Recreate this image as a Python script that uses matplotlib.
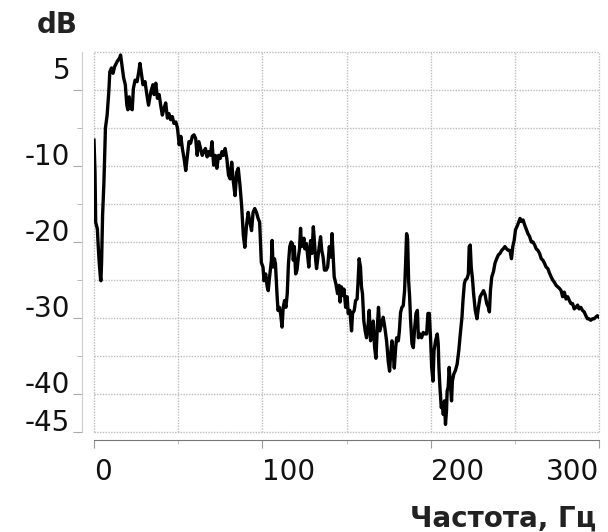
import matplotlib
matplotlib.use('Agg')
import matplotlib.pyplot as plt
import numpy as np

# spectrum
freq = [0, 0.6, 1.0, 2.0, 2.5, 3.1, 3.9, 4.1, 4.5, 5.1, 5.9, 6.8, 7.8, 8.8, 9.4, 10.4,
        11.3, 12.3, 13.9, 15.2, 15.8, 16.6, 17.6, 18.6, 19.5, 20.1, 20.9, 21.7, 22.7,
        23.4, 24.4, 25.6, 26.6, 27.3, 28.3, 29.1, 30.3, 31.4, 32.4, 33.8, 35.0, 35.7,
        36.7, 37.7, 38.7, 39.6, 40.6, 41.6, 42.6, 43.6, 44.5, 45.5, 46.5, 47.5, 48.6,
        49.6, 50.6, 51.6, 52.5, 53.5, 54.5, 55.5, 56.4, 57.4, 58.4, 59.4, 60.4, 61.3,
        62.3, 63.3, 64.3, 65.2, 66.2, 67.2, 68.2, 69.1, 70.1, 71.1, 72.1, 73.0, 74.0,
        75.0, 76.0, 76.9, 77.9, 78.9, 79.9, 80.9, 81.8, 82.8, 83.8, 84.8, 85.7, 86.7,
        87.7, 88.7, 89.6, 90.6, 91.6, 92.6, 93.6, 94.5, 95.5, 96.5, 97.5, 98.4, 99.4,
        100.4, 101.0, 102.0, 102.9, 103.5, 104.3, 105.4, 105.8, 106.4, 107.2, 107.8,
        108.7, 109.3, 110.1, 110.9, 111.7, 112.4, 113.2, 114.0, 114.8, 115.5, 116.3,
        117.1, 117.9, 118.4, 119.0, 119.8, 120.6, 121.4, 122.1, 122.7, 123.3, 123.9,
        124.7, 125.2, 126.2, 126.8, 127.6, 128.2, 128.7, 129.5, 130.3, 130.9, 131.7,
        132.2, 133.0, 133.8, 134.6, 135.3, 136.1, 136.9, 137.9, 138.8, 139.8, 140.8,
        141.4, 141.9, 142.7, 143.7, 144.7, 145.6, 146.2, 147.0, 147.8, 148.5, 149.5,
        150.4, 151.0, 152.0, 153.0, 153.6, 154.6, 155.4, 156.3, 156.9, 157.5, 158.3,
        158.9, 159.5, 160.3, 161.1, 161.9, 162.9, 163.5, 164.3, 165.1, 165.9, 166.7,
        167.5, 168.3, 169.0, 169.8, 170.8, 171.8, 172.8, 173.8, 174.8, 175.6, 176.2,
        177.0, 177.8, 178.4, 179.2, 179.8, 180.8, 181.4, 182.1, 182.9, 183.7, 184.5,
        185.1, 185.7, 186.3, 186.9, 187.5, 188.1, 188.9, 189.7, 190.5, 191.3, 192.1,
        192.7, 193.7, 194.6, 195.6, 196.6, 197.6, 198.4, 199.2, 200.0, 200.6, 201.4,
        202.0, 202.9, 203.9, 204.5, 204.9, 205.5, 206.3, 206.9, 207.5, 208.2, 208.8,
        209.4, 209.8, 210.4, 211.0, 211.8, 212.4, 212.9, 213.7, 214.7, 215.7, 216.7,
        217.6, 218.6, 219.2, 220.0, 220.6, 221.6, 222.4, 222.9, 223.5, 224.1, 224.9,
        225.5, 226.5, 227.5, 228.4, 229.4, 230.4, 231.4, 232.4, 233.3, 234.3, 234.9,
        235.5, 236.3, 237.3, 238.2, 239.2, 240.2, 241.2, 242.2, 243.1, 244.1, 245.1,
        246.1, 247.1, 248.0, 248.8, 249.6, 250.4, 251.6, 252.4, 253.1, 253.9, 254.9,
        255.9, 256.9, 257.8, 258.8, 259.8, 260.8, 261.8, 262.7, 263.7, 264.7, 265.7,
        266.7, 267.6, 268.6, 269.6, 270.6, 271.6, 272.5, 273.5, 274.5, 275.5, 276.5,
        277.5, 278.4, 279.4, 280.4, 281.4, 282.4, 283.3, 284.3, 285.3, 286.3, 287.3,
        288.2, 289.2, 290.2, 291.2, 292.2, 293.1, 294.1, 295.1, 296.1, 297.1, 298.0,
        299.0, 300.0]
level = [-6.6, -10.8, -17.4, -18.3, -20.5, -22.7, -24.9, -25.1, -22.7, -16.5, -12.1,
         -5.0, -3.3, -0.2, 2.4, 2.9, 2.2, 3.1, 3.8, 4.2, 4.6, 3.3, 1.6, 0.7, -2.0, -2.6,
         -0.9, -2.4, -2.6, 0.2, 1.3, 1.1, 2.4, 3.5, 2.0, 0.7, 1.1, -0.6, -2.0, -0.2, 0.7,
         -0.6, 0.9, -1.1, -0.6, -2.0, -3.3, -2.4, -1.7, -3.7, -3.1, -3.9, -3.5, -4.4,
         -4.2, -5.0, -7.2, -6.1, -7.7, -9.0, -10.6, -8.6, -6.8, -7.0, -6.1, -5.9, -6.4,
         -8.6, -6.8, -7.7, -8.6, -8.1, -7.7, -8.8, -8.1, -8.6, -6.8, -9.9, -8.6, -10.3,
         -8.6, -9.0, -8.1, -8.6, -7.7, -9.0, -11.2, -11.7, -9.5, -12.1, -13.9, -10.8,
         -10.3, -12.5, -15.2, -19.1, -20.7, -17.8, -16.1, -17.4, -18.5, -16.1, -15.6,
         -16.1, -16.9, -17.4, -22.7, -23.3, -25.1, -24.2, -25.9, -26.4, -24.6, -22.4,
         -19.8, -23.3, -22.2, -22.9, -26.8, -29.0, -28.6, -29.5, -31.2, -28.6, -27.7,
         -28.6, -26.8, -22.9, -20.6, -20.0, -20.2, -22.4, -20.6, -24.2, -23.7, -22.0,
         -20.9, -18.2, -20.6, -20.4, -19.5, -20.9, -20.2, -21.5, -23.3, -21.1, -19.8,
         -21.5, -18.0, -19.8, -22.4, -23.5, -22.0, -20.6, -19.3, -21.1, -22.0, -23.7,
         -23.7, -23.3, -20.6, -22.0, -18.9, -21.1, -24.6, -25.5, -26.8, -25.7, -27.9,
         -25.9, -27.0, -26.2, -28.6, -27.2, -29.4, -29.0, -31.7, -29.4, -29.0, -27.7,
         -27.5, -25.1, -22.2, -23.3, -25.9, -26.8, -30.4, -31.7, -32.6, -30.8, -29.0,
         -33.0, -31.3, -30.4, -33.9, -35.3, -31.3, -28.6, -31.7, -30.8, -29.9, -31.3,
         -33.0, -35.7, -37.0, -34.8, -33.0, -34.8, -36.6, -33.9, -32.6, -33.0, -31.7,
         -29.3, -28.6, -28.4, -26.4, -22.9, -18.9, -19.6, -25.1, -27.2, -30.4, -33.4,
         -33.9, -31.3, -29.4, -29.0, -32.6, -32.1, -32.6, -31.9, -32.1, -32.1, -29.4,
         -29.4, -33.0, -36.5, -38.3, -34.3, -33.0, -32.1, -33.4, -36.5, -39.1, -41.8,
         -41.3, -42.7, -40.9, -44.0, -42.2, -39.6, -39.1, -36.5, -39.1, -40.9, -38.3,
         -37.4, -36.9, -36.1, -34.3, -32.1, -29.9, -27.7, -25.5, -25.0, -24.8, -24.2,
         -20.6, -20.4, -23.3, -25.0, -26.8, -29.0, -30.1, -28.6, -27.2, -26.8, -26.4,
         -27.0, -28.1, -28.6, -29.2, -26.4, -24.6, -23.9, -22.8, -22.2, -21.7, -21.5,
         -21.1, -20.9, -20.6, -20.9, -21.1, -21.1, -22.2, -20.6, -19.8, -18.4, -17.8,
         -17.3, -16.9, -17.3, -17.1, -17.8, -18.4, -18.9, -19.3, -20.0, -20.0, -20.4,
         -20.9, -21.1, -21.5, -22.2, -22.4, -22.8, -23.3, -23.5, -24.1, -24.6, -25.0,
         -25.3, -25.7, -25.9, -26.1, -26.4, -27.2, -26.6, -27.5, -27.2, -27.7, -28.1,
         -28.1, -28.8, -28.6, -28.3, -28.8, -28.6, -29.0, -29.2, -29.7, -30.1, -30.1,
         -30.3, -30.1, -30.1, -29.9, -29.7, -29.9]

grid_x = [0, 50, 100, 150, 200, 250, 300]
grid_y = [5, 0, -5, -10, -15, -20, -25, -30, -35, -40, -45]
x_ticks = [0, 100, 200, 300]
x_minor = [50, 150, 250]
y_major = [0, -10, -20, -30, -40, -45]
y_minor = [-5, -15, -25, -35]
y_labels = ['5', '-10', '-20', '-30', '-40', '-45']
y_label_pos = [1.3, -10, -20, -30, -40, -45]

fig = plt.figure(figsize=(6.08, 5.32), dpi=100)
ax = fig.add_axes([94 / 608, 100 / 532, 505 / 608, 380 / 532])
ax.set_xlim(0, 300)
ax.set_ylim(-45, 5)

# dotted grid, drawn by hand so the edges show too
for gx in grid_x:
    ax.axvline(gx, color='#bdbdbd', lw=1, ls=(0, (1, 1)), clip_on=False, zorder=1)
for gy in grid_y:
    ax.axhline(gy, color='#bdbdbd', lw=1, ls=(0, (1, 1)), clip_on=False, zorder=1)

ax.plot(freq, level, color='black', lw=2.4, solid_joinstyle='round', zorder=3)

for s in ['top', 'right']:
    ax.spines[s].set_visible(False)
ax.spines['left'].set_position(('outward', 8.6))
ax.spines['left'].set_bounds(-45, 5)
ax.spines['left'].set_color('#cccccc')
ax.spines['bottom'].set_position(('outward', 5.8))
ax.spines['bottom'].set_bounds(0, 300)
ax.spines['bottom'].set_color('#777777')

ax.set_yticks(y_major)
ax.set_yticks(y_minor, minor=True)
ax.tick_params(axis='y', which='major', length=6.5, color='#aaaaaa', labelleft=False)
ax.tick_params(axis='y', which='minor', length=3.6, color='#aaaaaa')
for lab, pos in zip(y_labels, y_label_pos):
    ax.text(-0.047, pos + 0.15, lab, transform=ax.get_yaxis_transform(),
            ha='right', va='baseline', fontsize=20, color='#111111')

ax.set_xticks(x_ticks, [str(v) for v in x_ticks])
ax.set_xticks(x_minor, minor=True)
ax.tick_params(axis='x', which='major', length=5.8, color='#999999', pad=7,
               labelsize=20, labelcolor='#111111')
ax.tick_params(axis='x', which='minor', length=3, color='#bbbbbb')
xl = ax.get_xticklabels()
for t in xl:
    t.set_ha('left')
xl[-1].set_ha('right')

fig.text(37 / 608, 1 - 33 / 532, 'dB', fontsize=20, fontweight='bold',
         ha='left', va='baseline', color='#222222')
fig.text(596 / 608, 1 - 527 / 532, 'Частота, Гц', fontsize=20, fontweight='bold',
         ha='right', va='baseline', color='#222222')

fig.savefig('out.png', dpi=100)
plt.close(fig)
